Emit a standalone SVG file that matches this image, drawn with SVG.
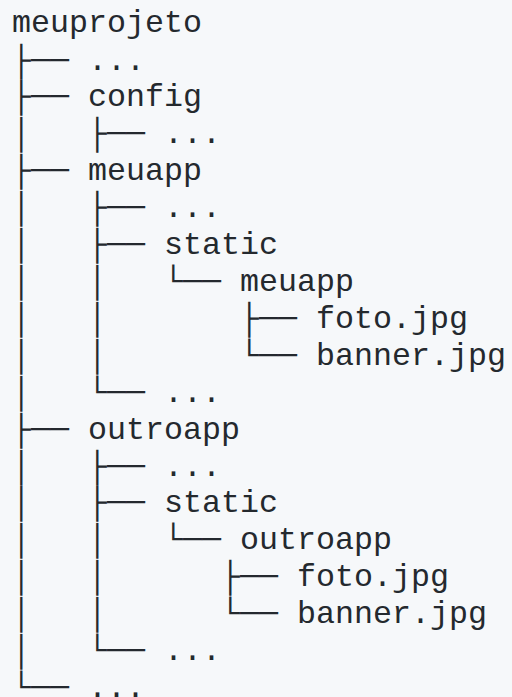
<svg xmlns="http://www.w3.org/2000/svg" width="512" height="697" viewBox="0 0 512 697">
<style>
text{font-family:"Liberation Mono","DejaVu Sans Mono",monospace;font-size:31.66px;fill:#24292e;white-space:pre}
</style>
<rect width="512" height="697" fill="#f6f8fa"/>
<g id="tree" xml:space="preserve">
<text x="12" y="32">meuprojeto</text>
<text x="12" y="69.5">├── ...</text>
<text x="12" y="106">├── config</text>
<text x="12" y="143">│   ├── ...</text>
<text x="12" y="180">├── meuapp</text>
<text x="12" y="217">│   ├── ...</text>
<text x="12" y="254">│   ├── static</text>
<text x="12" y="290.5">│   │   └── meuapp</text>
<text x="12" y="327.5">│   │       ├── foto.jpg</text>
<text x="12" y="364.5">│   │       └── banner.jpg</text>
<text x="12" y="401.5">│   └── ...</text>
<text x="12" y="438.5">├── outroapp</text>
<text x="12" y="475.5">│   ├── ...</text>
<text x="12" y="512">│   ├── static</text>
<text x="12" y="549">│   │   └── outroapp</text>
<text x="12" y="586">│   │      ├── foto.jpg</text>
<text x="12" y="623">│   │      └── banner.jpg</text>
<text x="12" y="660">│   └── ...</text>
<text x="12" y="697">└── ...</text>
</g>
</svg>
